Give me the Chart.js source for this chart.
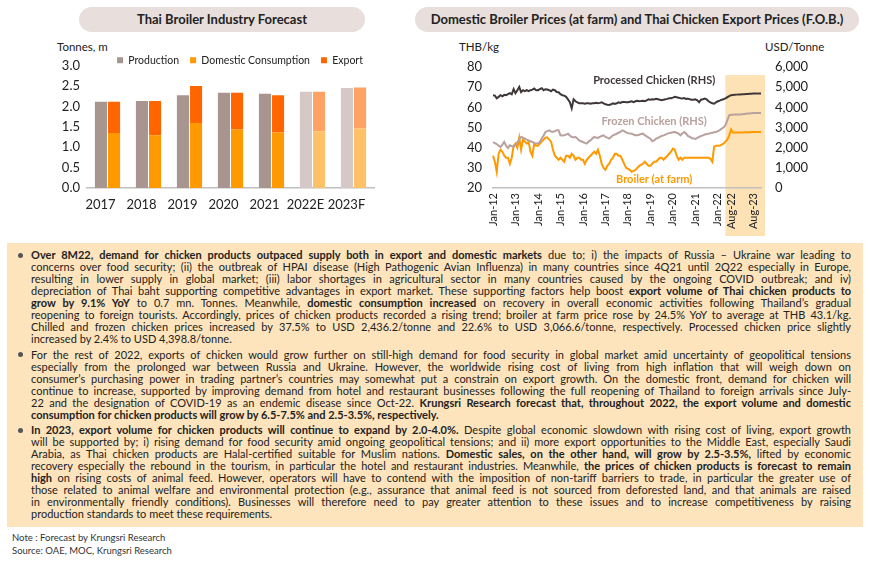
<!DOCTYPE html>
<html>
<head>
<meta charset="utf-8">
<script src="https://cdn.jsdelivr.net/npm/chart.js@4.4.0/dist/chart.umd.min.js"></script>
<style>
  body { margin: 0; background: #fff; font-family: Lato, "Noto Sans", sans-serif; color: #222; }
  #page { position: relative; width: 870px; height: 563px; overflow: hidden; }
  .pill { position: absolute; top: 7px; height: 25px; line-height: 25px; border-radius: 13px;
          background: #e8dedc; text-align: center; font-weight: bold; font-size: 13px; color: #222; }
  .unit { position: absolute; top: 40px; font-size: 11.5px; color: #222; }
  #box { position: absolute; left: 7px; top: 243px; width: 856px; height: 284px; background: #fde4bc;
         box-sizing: border-box; padding-top: 6px; }
  .para { position: relative; margin-left: 24px; width: 820px; }
  .para + .para { margin-top: 3.5px; }
  .para::before { content: ""; position: absolute; left: -13px; top: 3.5px; width: 5px; height: 5px;
                  border-radius: 50%; background: #555; }
  .ln { height: 12px; line-height: 12px; font-size: 11px; white-space: nowrap;
        text-align: justify; text-align-last: justify; }
  .ln.last { text-align-last: left; }
  .note { position: absolute; left: 12px; font-size: 9.5px; color: #333; }
  canvas { position: absolute; }
</style>
</head>
<body>
<div id="page">
  <div class="pill" style="left:79px; width:286px;">Thai Broiler Industry Forecast</div>
  <div class="pill" style="left:415px; width:444px;">Domestic Broiler Prices (at farm) and Thai Chicken Export Prices (F.O.B.)</div>

  <div class="unit" style="left:57px;">Tonnes, m</div>
  <div class="unit" style="left:459px;">THB/kg</div>
  <div class="unit" style="left:765px;">USD/Tonne</div>

  <canvas id="forecastChart" width="420" height="189" style="left:0; top:34px;"></canvas>
  <canvas id="priceChart" width="450" height="196" style="left:420px; top:40px;"></canvas>

  <div id="box">
    <div class="para">
      <div class="ln"><b>Over 8M22, demand for chicken products outpaced supply both in export and domestic markets</b> due to; i) the impacts of Russia – Ukraine war leading to</div>
      <div class="ln">concerns over food security; (ii) the outbreak of HPAI disease (High Pathogenic Avian Influenza) in many countries since 4Q21 until 2Q22 especially in Europe,</div>
      <div class="ln">resulting in lower supply in global market; (iii) labor shortages in agricultural sector in many countries caused by the ongoing COVID outbreak; and iv)</div>
      <div class="ln">depreciation of Thai baht supporting competitive advantages in export market. These supporting factors help boost <b>export volume of Thai chicken products to</b></div>
      <div class="ln"><b>grow by 9.1% YoY</b> to 0.7 mn. Tonnes. Meanwhile, <b>domestic consumption increased</b> on recovery in overall economic activities following Thailand’s gradual</div>
      <div class="ln">reopening to foreign tourists. Accordingly, prices of chicken products recorded a rising trend; broiler at farm price rose by 24.5% YoY to average at THB 43.1/kg.</div>
      <div class="ln">Chilled and frozen chicken prices increased by 37.5% to USD 2,436.2/tonne and 22.6% to USD 3,066.6/tonne, respectively. Processed chicken price slightly</div>
      <div class="ln last">increased by 2.4% to USD 4,398.8/tonne.</div>
    </div>
    <div class="para">
      <div class="ln">For the rest of 2022, exports of chicken would grow further on still-high demand for food security in global market amid uncertainty of geopolitical tensions</div>
      <div class="ln">especially from the prolonged war between Russia and Ukraine. However, the worldwide rising cost of living from high inflation that will weigh down on</div>
      <div class="ln">consumer’s purchasing power in trading partner’s countries may somewhat put a constrain on export growth. On the domestic front, demand for chicken will</div>
      <div class="ln">continue to increase, supported by improving demand from hotel and restaurant businesses following the full reopening of Thailand to foreign arrivals since July-</div>
      <div class="ln">22 and the designation of COVID-19 as an endemic disease since Oct-22. <b>Krungsri Research forecast that, throughout 2022, the export volume and domestic</b></div>
      <div class="ln last"><b>consumption for chicken products will grow by 6.5-7.5% and 2.5-3.5%, respectively.</b></div>
    </div>
    <div class="para">
      <div class="ln"><b>In 2023, export volume for chicken products will continue to expand by 2.0-4.0%.</b> Despite global economic slowdown with rising cost of living, export growth</div>
      <div class="ln">will be supported by; i) rising demand for food security amid ongoing geopolitical tensions; and ii) more export opportunities to the Middle East, especially Saudi</div>
      <div class="ln">Arabia, as Thai chicken products are Halal-certified suitable for Muslim nations. <b>Domestic sales, on the other hand, will grow by 2.5-3.5%,</b> lifted by economic</div>
      <div class="ln">recovery especially the rebound in the tourism, in particular the hotel and restaurant industries. Meanwhile, <b>the prices of chicken products is forecast to remain</b></div>
      <div class="ln"><b>high</b> on rising costs of animal feed. However, operators will have to contend with the imposition of non-tariff barriers to trade, in particular the greater use of</div>
      <div class="ln">those related to animal welfare and environmental protection (e.g., assurance that animal feed is not sourced from deforested land, and that animals are raised</div>
      <div class="ln">in environmentally friendly conditions). Businesses will therefore need to pay greater attention to these issues and to increase competitiveness by raising</div>
      <div class="ln last">production standards to meet these requirements.</div>
    </div>
  </div>

  <div class="note" style="top:532px;">Note : Forecast by Krungsri Research</div>
  <div class="note" style="top:545px;">Source: OAE, MOC, Krungsri Research</div>
</div>

<script>
// ---- Thai broiler industry (million tonnes) ----
const years = ['2017', '2018', '2019', '2020', '2021', '2022E', '2023F'];
const production = [2.11, 2.13, 2.27, 2.33, 2.31, 2.36, 2.45];
const domesticConsumption = [1.35, 1.29, 1.59, 1.43, 1.36, 1.39, 1.46];
const exportVolume = [0.76, 0.84, 0.91, 0.90, 0.91, 0.97, 1.00];
const forecastFrom = 5; // 2022E onward drawn lighter

// ---- monthly prices, Jan-12 .. Dec-23 ----
const priceYears = ['12', '13', '14', '15', '16', '17', '18', '19', '20', '21', '22', '23'];
const monthNames = ['Jan', 'Feb', 'Mar', 'Apr', 'May', 'Jun', 'Jul', 'Aug', 'Sep', 'Oct', 'Nov', 'Dec'];
const monthLabels = [];
priceYears.forEach(y => monthNames.forEach(m => monthLabels.push(m + '-' + y)));

// broiler at farm, THB/kg (left axis)
const broilerPrice = [
  36, 33, 28, 37, 39, 38, 36, 35, 35, 32, 35, 41,
  42, 40, 45, 39, 44, 43, 42, 43, 38, 36, 42, 41,
  41, 42, 43, 44, 45, 45, 44, 43, 39, 36, 35, 34,
  35, 34, 33, 36, 36, 35, 37, 36, 34, 35, 35, 34,
  34, 32, 34, 35, 36, 37, 38, 37, 39, 36, 32, 30,
  29, 31, 32, 34, 35, 37, 37, 36, 36, 34, 32, 30,
  29.5, 29, 28, 28.5, 29, 30, 31, 31.5, 32, 33, 32, 31,
  31, 32, 33, 33, 34, 35, 35, 34, 35, 36, 37, 38,
  39.5, 39, 36, 34, 35, 34, 35, 35, 35, 35, 35, 35,
  35, 35, 35, 35, 35, 35, 35, 35, 34.5, 33, 40.5, 41,
  41, 41, 41.5, 42, 43, 44, 46, 49, 47.5, 47.5, 47.5, 47.5,
  47.5, 47.5, 47.6, 47.6, 47.7, 47.7, 47.8, 47.8, 47.8, 47.8, 47.8, 47.8
];
// frozen chicken export price, USD/tonne (right axis)
const frozenPrice = [
  2280, 2230, 2180, 2100, 2030, 2150, 2280, 2100, 1980, 2120, 2080, 2030,
  2150, 2280, 2400, 2530, 2500, 2450, 2400, 2360, 2320, 2280, 2240, 2200,
  2220, 2280, 2450, 2600, 2780, 2820, 2860, 2800, 2780, 2820, 2860, 2860,
  2610, 2600, 2610, 2650, 2690, 2600, 2530, 2520, 2530, 2450, 2360, 2320,
  2280, 2240, 2200, 2300, 2360, 2450, 2530, 2500, 2480, 2530, 2580, 2610,
  2530, 2500, 2450, 2530, 2610, 2650, 2690, 2740, 2780, 2860, 2820, 2760,
  2720, 2700, 2695, 2650, 2620, 2612, 2640, 2680, 2695, 2620, 2560, 2500,
  2447, 2315, 2360, 2447, 2480, 2530, 2580, 2610, 2650, 2695, 2720, 2740,
  2760, 2778, 2740, 2700, 2612, 2700, 2778, 2700, 2580, 2530, 2480, 2450,
  2431, 2480, 2530, 2580, 2612, 2650, 2680, 2695, 2720, 2740, 2760, 2778,
  2820, 2870, 2943, 3000, 3108, 3350, 3604, 3630, 3638, 3640, 3645, 3648,
  3650, 3660, 3670, 3680, 3690, 3700, 3710, 3715, 3720, 3720, 3720, 3720
];
// processed chicken export price, USD/tonne (right axis)
const processedPrice = [
  4600, 4580, 4450, 4520, 4600, 4550, 4620, 4600, 4650, 4700, 4650, 4900,
  4700, 4850, 5010, 4750, 4850, 4800, 4850, 4800, 4850, 4880, 4930, 4850,
  4850, 4900, 4950, 4850, 4900, 4880, 4850, 4800, 4880, 4850, 4760, 4750,
  4650, 4600, 4580, 4520, 4400, 4250, 3950, 4400, 4300, 4250, 4200, 4200,
  4200, 4180, 4200, 4200, 4180, 4200, 4200, 4220, 4200, 4220, 4250, 4200,
  4150, 4130, 4120, 4150, 4200, 4170, 4200, 4250, 4220, 4260, 4270, 4250,
  4250, 4280, 4300, 4260, 4300, 4320, 4300, 4310, 4330, 4300, 4350, 4400,
  4380, 4400, 4390, 4420, 4400, 4380, 4350, 4380, 4400, 4420, 4450, 4450,
  4480, 4520, 4500, 4480, 4450, 4440, 4460, 4420, 4430, 4400, 4380, 4380,
  4400, 4350, 4250, 4380, 4400, 4430, 4400, 4300, 4250, 4200, 4180, 4250,
  4300, 4330, 4380, 4400, 4450, 4500, 4550, 4600, 4610, 4620, 4630, 4640,
  4640, 4650, 4650, 4660, 4660, 4670, 4670, 4680, 4680, 4680, 4690, 4690
];
const xTickLabels = ['Aug-22', 'Aug-23'];
const shadeFrom = 'May-22';

Chart.defaults.font.family = 'Lato, "Noto Sans", sans-serif';
Chart.defaults.color = '#222';

// moves the legend box by a fixed offset after layout
const legendShift = {
  id: 'legendShift',
  afterLayout(chart, args, opts) {
    const lg = chart.legend;
    if (!lg) return;
    lg.top += opts.y; lg.bottom += opts.y;
    lg.left += opts.x; lg.right += opts.x;
  }
};

const shade = (dark, light) => ctx => (ctx.dataIndex >= forecastFrom ? light : dark);

new Chart(document.getElementById('forecastChart'), {
  type: 'bar',
  data: {
    labels: years,
    datasets: [
      { label: 'Production', data: production, stack: 'p',
        backgroundColor: shade('#a8958f', '#d6c8c6') },
      { label: 'Domestic Consumption', data: domesticConsumption, stack: 's',
        backgroundColor: shade('#ff9900', '#ffc167') },
      { label: 'Export', data: exportVolume, stack: 's',
        backgroundColor: shade('#ff6600', '#ffa264') }
    ]
  },
  options: {
    responsive: false,
    animation: false,
    layout: { padding: { left: 52, right: 0, top: 0, bottom: 0 } },
    datasets: { bar: { barPercentage: 0.92, categoryPercentage: 0.64, borderWidth: 0 } },
    scales: {
      x: {
        stacked: true,
        grid: { display: false, drawTicks: false },
        border: { color: '#c0c0c0', width: 1.5 },
        ticks: { font: { size: 13 }, color: '#222', padding: 9, labelOffset: -7,
                 maxRotation: 0, minRotation: 0, autoSkip: false },
        afterFit: s => { s.height = 35; }
      },
      y: {
        stacked: true, min: 0, max: 3,
        grid: { display: false, drawTicks: false },
        border: { display: false },
        ticks: { stepSize: 0.5, font: { size: 13 }, color: '#222', padding: 7,
                 callback: v => Number(v).toFixed(1) },
        afterFit: s => { s.width = 35; }
      },
      pad: {
        position: 'right',
        grid: { display: false, drawTicks: false },
        border: { display: false },
        ticks: { display: false },
        afterFit: s => { s.width = 46; }
      }
    },
    plugins: {
      legend: {
        position: 'top',
        labels: { boxWidth: 6, boxHeight: 6, padding: 11, font: { size: 10.5 }, color: '#222' }
      },
      legendShift: { x: 4, y: 10 },
      tooltip: { enabled: false }
    }
  },
  plugins: [legendShift]
});

// shaded forecast window behind the price lines
const forecastShade = {
  id: 'forecastShade',
  beforeDraw(chart, args, opts) {
    const { ctx, chartArea, scales } = chart;
    const x0 = scales.x.getPixelForValue(monthLabels.indexOf(opts.from));
    const y0 = scales.yR.getPixelForValue(opts.top);
    ctx.save();
    ctx.fillStyle = opts.color;
    ctx.fillRect(x0, y0, chartArea.right + 4 - x0, scales.x.bottom - y0);
    ctx.restore();
  }
};

// series names written next to the lines
const seriesNames = {
  id: 'seriesNames',
  afterDatasetsDraw(chart, args, opts) {
    const { ctx, scales } = chart;
    ctx.save();
    ctx.font = 'bold 11px Lato, "Noto Sans", sans-serif';
    ctx.textAlign = 'center';
    ctx.textBaseline = 'middle';
    opts.items.forEach(it => {
      ctx.fillStyle = it.color;
      ctx.fillText(it.text, scales.x.getPixelForValue(monthLabels.indexOf(it.at)), scales.yR.getPixelForValue(it.value));
    });
    ctx.restore();
  }
};

new Chart(document.getElementById('priceChart'), {
  type: 'line',
  data: {
    labels: monthLabels,
    datasets: [
      { label: 'Processed Chicken (RHS)', data: processedPrice, yAxisID: 'yR',
        borderColor: '#3f3737', borderWidth: 2 },
      { label: 'Frozen Chicken (RHS)', data: frozenPrice, yAxisID: 'yR',
        borderColor: '#b8a19e', borderWidth: 2 },
      { label: 'Broiler (at farm)', data: broilerPrice, yAxisID: 'y',
        borderColor: '#ff9900', borderWidth: 2 }
    ]
  },
  options: {
    responsive: false,
    animation: false,
    layout: { padding: { left: 0, right: 0, top: 27, bottom: 0 } },
    elements: { point: { radius: 0 }, line: { tension: 0 } },
    scales: {
      x: {
        grid: { display: false, drawTicks: false },
        border: { color: '#c0c0c0', width: 1.5 },
        ticks: {
          autoSkip: false, minRotation: 90, maxRotation: 90, padding: 5,
          font: { size: 11 }, color: '#222',
          callback(v) {
            const lb = monthLabels[v];
            return (lb.startsWith('Jan') && lb !== 'Jan-23') || xTickLabels.includes(lb) ? lb : '';
          }
        },
        afterFit: s => { s.height = 48; }
      },
      y: {
        position: 'left', min: 20, max: 80,
        grid: { display: false, drawTicks: false },
        border: { display: false },
        ticks: { stepSize: 10, font: { size: 13 }, color: '#222', padding: 11 },
        afterFit: s => { s.width = 73; }
      },
      yR: {
        position: 'right', min: 0, max: 6000,
        grid: { display: false, drawTicks: false },
        border: { display: false },
        ticks: { stepSize: 1000, font: { size: 13 }, color: '#222', padding: 14,
                 callback: v => Number(v).toLocaleString('en-US') },
        afterFit: s => { s.width = 109; }
      }
    },
    plugins: {
      legend: { display: false },
      tooltip: { enabled: false },
      forecastShade: { from: shadeFrom, top: 5600, color: '#fde2b6' },
      seriesNames: {
        items: [
          { text: 'Processed Chicken (RHS)', at: 'Mar-19', value: 5350, color: '#3f3737' },
          { text: 'Frozen Chicken (RHS)', at: 'Mar-19', value: 3280, color: '#b8a19e' },
          { text: 'Broiler (at farm)', at: 'Mar-19', value: 430, color: '#ff9900' }
        ]
      }
    }
  },
  plugins: [forecastShade, seriesNames]
});
</script>
</body>
</html>
